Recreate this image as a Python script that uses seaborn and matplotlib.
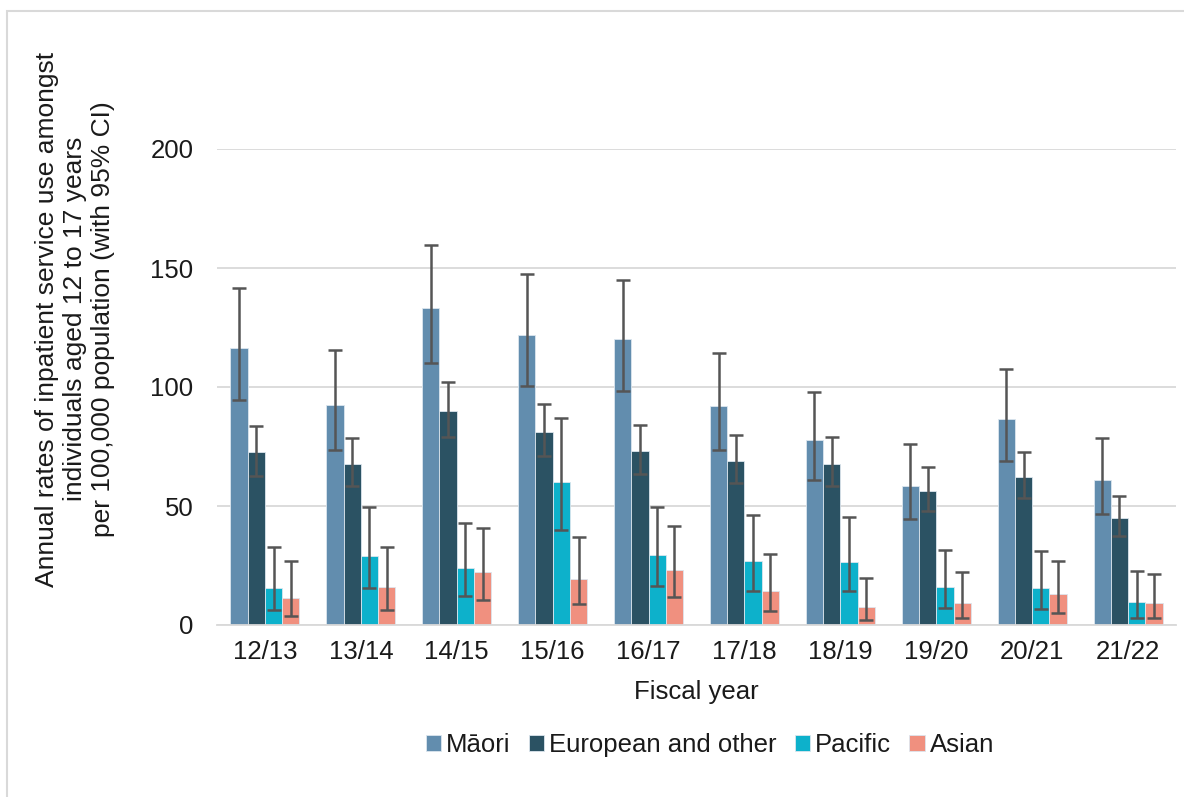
import numpy as np
import pandas as pd
import matplotlib
matplotlib.use('Agg')
import matplotlib.pyplot as plt
from matplotlib.patches import Rectangle
import seaborn as sns

years = ['12/13', '13/14', '14/15', '15/16', '16/17', '17/18', '18/19', '19/20', '20/21', '21/22']
groups = ['Māori', 'European and other', 'Pacific', 'Asian']

maori = [116.2, 92.6, 133.1, 122.0, 120.0, 91.9, 77.8, 58.6, 86.6, 61.0]
maori_lo = [94.7, 73.4, 110.2, 100.3, 98.5, 73.6, 61.1, 44.4, 69.1, 46.5]
maori_hi = [141.5, 115.5, 159.8, 147.4, 144.9, 114.1, 98.0, 76.2, 107.4, 78.6]

european = [72.5, 67.7, 90.1, 81.3, 73.2, 69.1, 67.8, 56.5, 62.2, 45.1]
european_lo = [62.8, 58.2, 79.0, 70.8, 63.3, 59.5, 58.3, 47.8, 53.2, 37.5]
european_hi = [83.5, 78.5, 102.3, 93.0, 84.2, 80.0, 78.9, 66.4, 72.6, 54.0]

pacific = [15.7, 29.0, 24.0, 60.1, 29.4, 26.9, 26.3, 16.1, 15.7, 9.7]
pacific_lo = [6.4, 15.4, 12.0, 40.1, 16.2, 14.4, 14.1, 7.0, 6.7, 3.1]
pacific_hi = [32.8, 49.7, 43.0, 87.0, 49.6, 46.1, 45.2, 31.7, 31.1, 22.5]

asian = [11.5, 16.0, 22.3, 19.5, 23.3, 14.4, 7.7, 9.4, 13.0, 9.1]
asian_lo = [3.8, 6.4, 10.6, 9.0, 11.6, 5.7, 2.1, 3.1, 5.2, 2.9]
asian_hi = [27.0, 32.9, 40.9, 37.1, 41.8, 29.9, 19.9, 22.3, 27.0, 21.4]

colors = ['#628dae', '#2b5263', '#0db1cb', '#f0907f']

rows = []
for g, vals, lo, hi in zip(groups,
                           [maori, european, pacific, asian],
                           [maori_lo, european_lo, pacific_lo, asian_lo],
                           [maori_hi, european_hi, pacific_hi, asian_hi]):
    for y, v, l, h in zip(years, vals, lo, hi):
        rows.append({'year': y, 'group': g, 'rate': v, 'lo': l, 'hi': h})
df = pd.DataFrame(rows)

sns.set_style('white')
plt.rcParams['font.family'] = ['Liberation Sans', 'DejaVu Sans']
txt = '#1a1a1a'

fig = plt.figure(figsize=(11.84, 7.97), dpi=100)
ax = fig.add_axes([217 / 1184, 1 - 625 / 797, (1176 - 217) / 1184, (625 - 149) / 797])

sns.barplot(data=df, x='year', y='rate', hue='group', palette=colors,
            errorbar=None, width=0.72, edgecolor='#dce6ee', linewidth=0.6,
            saturation=1, ax=ax)

# confidence intervals on top of each bar
for cont, g in zip(ax.containers, groups):
    sub = df[df['group'] == g]
    xs = [b.get_x() + b.get_width() / 2 for b in cont]
    vals = sub['rate'].to_numpy()
    err = [vals - sub['lo'].to_numpy(), sub['hi'].to_numpy() - vals]
    ax.errorbar(xs, vals, yerr=err, fmt='none', ecolor='#555555',
                elinewidth=1.8, capsize=4.8, capthick=1.8, zorder=5)

ax.set_ylim(0, 200)
ax.set_yticks([0, 50, 100, 150, 200])
ax.set_xlim(-0.5, len(years) - 0.5)
ax.yaxis.grid(True, color='#d9d9d9', linewidth=1.3)
ax.set_axisbelow(True)
for s in ['top', 'right', 'left']:
    ax.spines[s].set_visible(False)
ax.spines['bottom'].set_color('#d9d9d9')
ax.spines['bottom'].set_linewidth(1.3)
ax.tick_params(axis='both', length=0, labelsize=18.5, colors=txt)
ax.tick_params(axis='y', pad=17)
ax.tick_params(axis='x', pad=11)
ax.set_xlabel('Fiscal year', fontsize=18.5, color=txt)
ax.xaxis.set_label_coords(0.5, -0.115)
ax.set_ylabel('')

fig.text(75 / 1184, 1 - 319 / 797,
         'Annual rates of inpatient service use amongst\nindividuals aged 12 to 17 years\nper 100,000 population (with 95% CI)',
         rotation=90, ha='center', va='center', multialignment='center',
         fontsize=19, color=txt, linespacing=1.2)

handles, labels = ax.get_legend_handles_labels()
ax.legend_.remove()
fig.legend(handles, labels, loc='center', bbox_to_anchor=(710 / 1184, 1 - 745 / 797),
           ncol=4, frameon=False, fontsize=18.5, handlelength=0.6, handleheight=0.6,
           handletextpad=0.2, columnspacing=0.7, labelcolor=txt)

fig.patches.append(Rectangle((7 / 1184, -0.05), 1.1, 1 - 11 / 797 + 0.05,
                             transform=fig.transFigure, fill=False,
                             edgecolor='#d9d9d9', linewidth=1.5))

fig.savefig('out.png', dpi=100)
